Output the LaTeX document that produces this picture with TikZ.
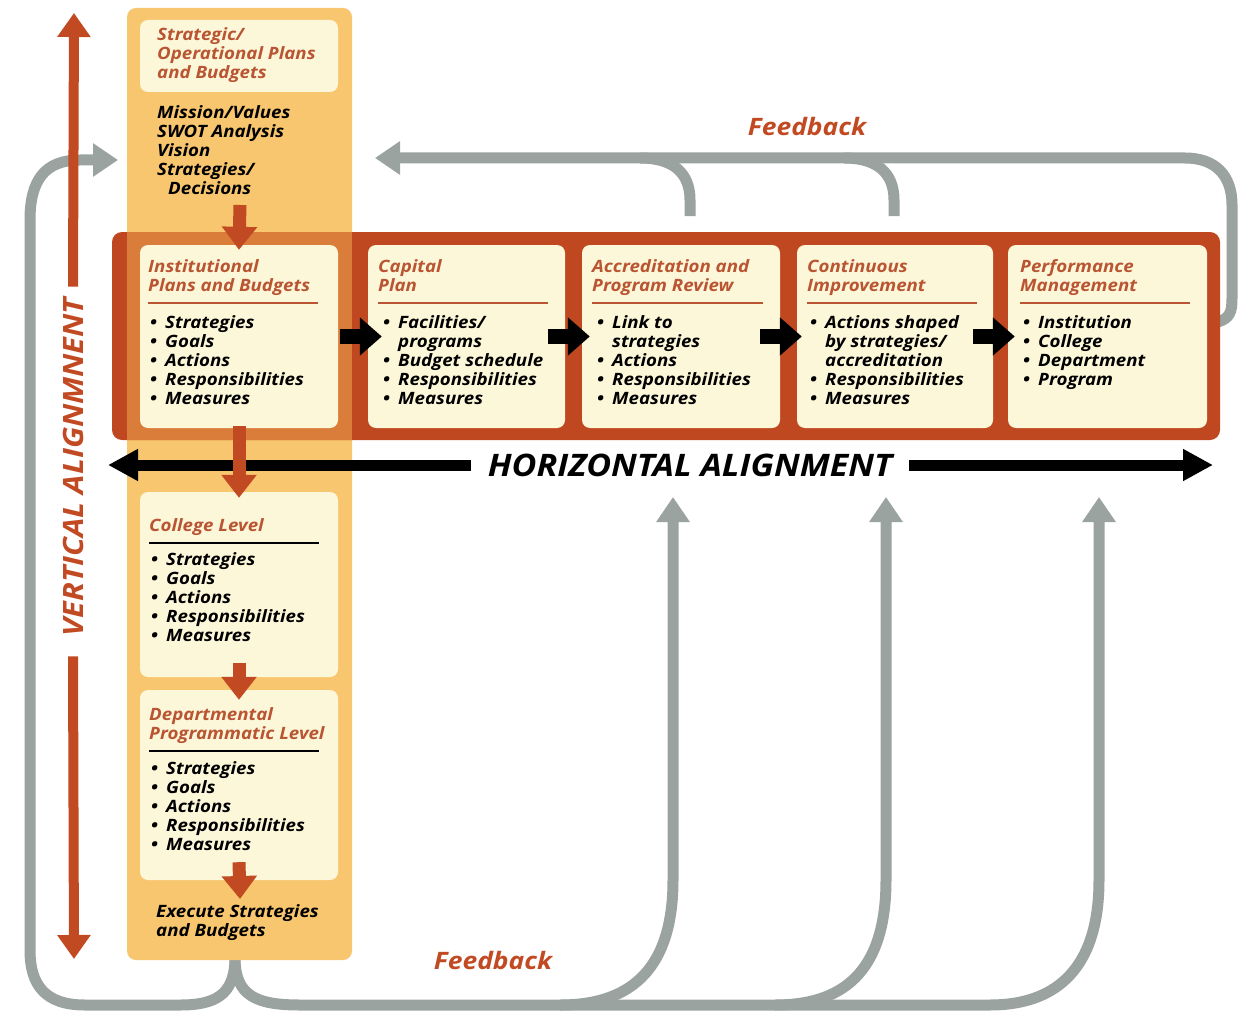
\documentclass[tikz,border=0pt]{standalone}
\usepackage{fontspec}
\setmainfont{Open Sans}[FakeStretch=1.1]
\usetikzlibrary{arrows.meta}
\definecolor{colorange}{HTML}{F8C66F}
\definecolor{cream}{HTML}{FDF7DA}
\definecolor{bandred}{HTML}{C04820}
\definecolor{bandmix}{HTML}{DA7D3A}
\definecolor{hdr}{HTML}{B95532}
\definecolor{oarrow}{HTML}{C24A22}
\definecolor{fbgray}{HTML}{9BA3A0}
\newcommand\bl{\makebox[15pt][l]{•}}
\newcommand\ind{\hspace*{15pt}}
\newcommand\st{\rule{0pt}{14pt}}
\begin{document}
\begin{tikzpicture}[x=1pt,y=-1pt,
  txt/.style={anchor=north west,inner sep=0pt,align=left,font=\fontsize{17}{19}\selectfont\bfseries\itshape},
  hd/.style={txt,text=hdr},
  cbox/.style={fill=cream,rounded corners=8pt,inner sep=0pt,draw=none},
  gline/.style={draw=fbgray,line width=11pt},
  gtip/.style={-{Triangle[width=32pt,length=25pt]}},
  oarr/.style={draw=oarrow,line width=13pt,-{Triangle[width=34pt,length=23pt]}},
  barr/.style={draw=black,line width=15pt,-{Triangle[width=37pt,length=22pt]}},
  harr/.style={draw=black,line width=11pt,-{Triangle[width=30pt,length=30pt]}},
  varr/.style={draw=oarrow,line width=10pt,-{Triangle[width=32pt,length=24pt]}},
  hline/.style={draw=hdr,line width=1.8pt},
  kline/.style={draw=black,line width=1.8pt},
  fb/.style={text=oarrow,font=\fontsize{24}{28}\selectfont\bfseries\itshape,inner sep=0pt}]
\useasboundingbox (0,0) rectangle (1255,1019);
\fill[white] (0,0) rectangle (1255,1019);

% coordinates
\coordinate (colbot) at (235,960);
\coordinate (lefttip) at (118,160);
\coordinate (toptip) at (375,158);
\coordinate (up1) at (673,497);
\coordinate (up2) at (886,497);
\coordinate (up3) at (1099,497);
\coordinate (br1) at (690,216);
\coordinate (br2) at (894,216);
\coordinate (bandR) at (1218,322);
\coordinate (vtop) at (74,13);
\coordinate (vbot) at (74,959);
\coordinate (hl) at (108,465);
\coordinate (hr) at (1213,465);

% gray feedback arrows
\draw[gline,gtip] (colbot) .. controls (234,995) and (215,1005) .. (180,1005) -- (85,1005)
   .. controls (45,1005) and (30,985) .. (30,950) -- (30,220)
   .. controls (30,180) and (45,160) .. (80,160) -- (lefttip);
\draw[gline,gtip] (colbot) .. controls (236,995) and (255,1005) .. (300,1005) -- (990,1005)
   .. controls (1050,1005) and (1099,975) .. (1099,880) -- (up3);
\draw[gline,gtip] (560,1005) .. controls (625,1005) and (673,975) .. (673,880) -- (up1);
\draw[gline,gtip] (775,1005) .. controls (840,1005) and (886,975) .. (886,880) -- (up2);
\draw[gline,gtip] (bandR) .. controls (1230,318) and (1232,312) .. (1232,298) -- (1232,205)
   .. controls (1232,175) and (1215,158) .. (1185,158) -- (toptip);
\draw[gline] (br1) -- (690,200) .. controls (690,172) and (672,158) .. (640,158);
\draw[gline] (br2) -- (894,200) .. controls (894,172) and (876,158) .. (844,158);

% column and band
\node[fill=colorange,rounded corners=9pt,inner sep=0pt,minimum width=225pt,minimum height=952pt] (col) at (239.5,484) {};
\node[fill=bandred,rounded corners=10pt,inner sep=0pt,minimum width=1108pt,minimum height=208pt] (band) at (666,336) {};
\node[fill=bandmix,inner sep=0pt,minimum width=225pt,minimum height=208pt] (bandcol) at (239.5,336) {};

% boxes
\node[cbox,minimum width=198pt,minimum height=72pt] (strat) at (239,56) {};
\node[cbox,minimum width=198pt,minimum height=183pt] (inst) at (239,336.5) {};
\node[cbox,minimum width=197pt,minimum height=183pt] (cap) at (466.5,336.5) {};
\node[cbox,minimum width=198pt,minimum height=183pt] (accr) at (681,336.5) {};
\node[cbox,minimum width=196pt,minimum height=183pt] (cont) at (895,336.5) {};
\node[cbox,minimum width=199pt,minimum height=183pt] (perf) at (1107.5,336.5) {};
\node[cbox,minimum width=198pt,minimum height=185pt] (coll) at (239,584.5) {};
\node[cbox,minimum width=198pt,minimum height=190pt] (dept) at (239,785) {};

% texts in column
\node[hd] (strath) at (157,26) {\st Strategic/\\Operational Plans\\and Budgets};
\node[txt] (mission) at (157,104) {\st Mission/Values\\SWOT Analysis\\Vision\\Strategies/\\\hspace*{11pt}Decisions};

\node[hd] (insth) at (148,258) {\st Institutional\\Plans and Budgets};
\draw[hline] (148,303) -- (318,303);
\node[txt] (instb) at (150,314) {\st\bl Strategies\\\bl Goals\\\bl Actions\\\bl Responsibilities\\\bl Measures};

\node[hd] (caph) at (378,258) {\st Capital\\Plan};
\draw[hline] (378,303) -- (548,303);
\node[txt] (capb) at (383,314) {\st\bl Facilities/\\\ind programs\\\bl Budget schedule\\\bl Responsibilities\\\bl Measures};

\node[hd] (accrh) at (592,258) {\st Accreditation and\\Program Review};
\draw[hline] (592,303) -- (763,303);
\node[txt] (accrb) at (597,314) {\st\bl Link to\\\ind strategies\\\bl Actions\\\bl Responsibilities\\\bl Measures};

\node[hd] (conth) at (807,258) {\st Continuous\\Improvement};
\draw[hline] (807,303) -- (977,303);
\node[txt] (contb) at (810,314) {\st\bl Actions shaped\\\ind by strategies/\\\ind accreditation\\\bl Responsibilities\\\bl Measures};

\node[hd] (perfh) at (1020,258) {\st Performance\\Management};
\draw[hline] (1020,303) -- (1190,303);
\node[txt] (perfb) at (1023,314) {\st\bl Institution\\\bl College\\\bl Department\\\bl Program};

\node[hd] (collh) at (149,517) {\st College Level};
\draw[kline] (149,543) -- (319,543);
\node[txt] (collb) at (151,551) {\st\bl Strategies\\\bl Goals\\\bl Actions\\\bl Responsibilities\\\bl Measures};

\node[hd] (depth) at (149,706) {\st Departmental\\Programmatic Level};
\draw[kline] (149,751) -- (319,751);
\node[txt] (deptb) at (151,760) {\st\bl Strategies\\\bl Goals\\\bl Actions\\\bl Responsibilities\\\bl Measures};

\node[txt] (exec) at (156,903) {\st Execute Strategies\\and Budgets};

% horizontal alignment
\node[font=\fontsize{31}{38}\selectfont\bfseries\itshape,inner sep=0pt] (htxt) at (690,465) {HORIZONTAL ALIGNMENT};
\draw[harr] ([xshift=-17pt]htxt.west) -- (hl);
\draw[harr] ([xshift=17pt]htxt.east) -- (hr);

% black arrows between boxes
\draw[barr] ([xshift=2pt]inst.east) -- ([xshift=14pt]cap.west);
\draw[barr] ([xshift=-17pt]cap.east) -- ([xshift=8pt]accr.west);
\draw[barr] ([xshift=-20pt]accr.east) -- ([xshift=5pt]cont.west);
\draw[barr] ([xshift=-20pt]cont.east) -- ([xshift=7pt]perf.west);

% orange down arrows
\draw[oarr] (240,205) -- ([yshift=-5pt]inst.north);
\draw[oarr] ([yshift=2pt]inst.south) -- ([yshift=-6pt]coll.north);
\draw[oarr] ([yshift=14pt]coll.south) -- ([yshift=-10pt]dept.north);
\draw[oarr] ([yshift=18pt]dept.south) -- (240,899);

% vertical alignment
\node[rotate=90,text=oarrow,font=\fontsize{28}{34}\selectfont\bfseries\itshape,inner sep=0pt] (vtxt) at (73,467) {VERTICAL ALIGNMNENT};
\draw[varr] ([yshift=11pt]vtxt.east) -- (vtop);
\draw[varr] ([yshift=-20pt]vtxt.west) -- (vbot);

% feedback labels
\node[fb] (fbtop) at (807,127) {Feedback};
\node[fb] (fbbot) at (493,960) {Feedback};
\end{tikzpicture}
\end{document}
